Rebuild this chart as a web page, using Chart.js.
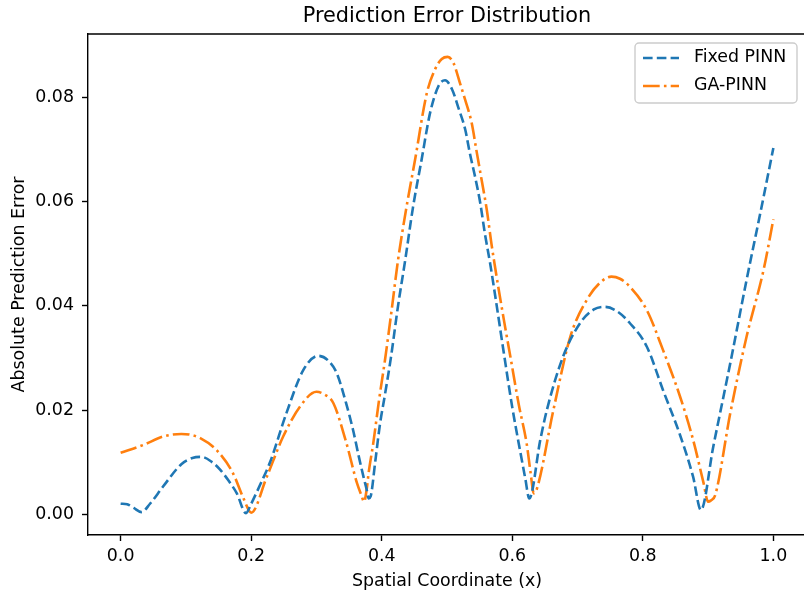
<!DOCTYPE html>
<html>
<head>
<meta charset="utf-8">
<title>Prediction Error Distribution</title>
<script src="https://cdn.jsdelivr.net/npm/chart.js@4"></script>
<style>
  html, body { margin: 0; padding: 0; background: #fff; overflow: hidden; }
  #wrap { width: 804px; height: 596px; overflow: hidden; position: relative; }
  #errChart { position: absolute; left: 0; top: 0; }
</style>
</head>
<body>
<div id="wrap"><canvas id="errChart" width="810" height="596"></canvas></div>
<script>
// Fixed PINN error
const fixedX = [0.000, 0.010, 0.020, 0.032, 0.045, 0.065, 0.093, 0.110, 0.124, 0.140, 0.152, 0.165, 0.178, 0.192, 0.200,
  0.215, 0.229, 0.254, 0.280, 0.303, 0.318, 0.331, 0.345, 0.356, 0.365, 0.372, 0.377, 0.380, 0.383,
  0.390, 0.397, 0.405, 0.414, 0.425, 0.436, 0.448, 0.461, 0.474, 0.487, 0.497,
  0.508, 0.517, 0.528, 0.535, 0.543, 0.551, 0.558, 0.566, 0.574, 0.587, 0.600, 0.613, 0.620, 0.626,
  0.643, 0.653, 0.678, 0.704, 0.725, 0.742, 0.760, 0.780, 0.806, 0.831, 0.857, 0.877, 0.889, 0.908, 0.934,
  0.959, 0.980, 1.000];
const fixedY = [0.0020, 0.0019, 0.0012, 0.0004, 0.0020, 0.0053, 0.0096, 0.0108, 0.0110, 0.0100, 0.0086, 0.0065, 0.0040, 0.0002, 0.0020,
  0.0060, 0.0100, 0.0194, 0.0277, 0.0304, 0.0295, 0.0271, 0.0215, 0.0162, 0.0110, 0.0072, 0.0047, 0.0030, 0.0034,
  0.0100, 0.0170, 0.0230, 0.0300, 0.0400, 0.0488, 0.0590, 0.0680, 0.0770, 0.0822, 0.0833,
  0.0815, 0.0782, 0.0738, 0.0693, 0.0648, 0.0597, 0.0539, 0.0482, 0.0418, 0.0310, 0.0205, 0.0115, 0.0068, 0.0030,
  0.0143, 0.0200, 0.0303, 0.0367, 0.0393, 0.0398, 0.0390, 0.0367, 0.0322, 0.0238, 0.0152, 0.0072, 0.0008, 0.0130, 0.0290,
  0.0450, 0.0578, 0.0703];

// GA-PINN error
const gaX = [0.000, 0.035, 0.065, 0.093, 0.105, 0.122, 0.147, 0.172, 0.188, 0.200, 0.224, 0.249, 0.275, 0.300, 0.312,
  0.326, 0.346, 0.362, 0.369, 0.373, 0.377, 0.380, 0.387, 0.396, 0.405, 0.415, 0.425, 0.438, 0.451, 0.469, 0.482, 0.492, 0.501,
  0.510, 0.520, 0.528, 0.538, 0.545, 0.553, 0.561, 0.568, 0.576, 0.587, 0.598, 0.610, 0.622, 0.628, 0.633, 0.638,
  0.663, 0.689, 0.714, 0.735, 0.752, 0.765, 0.780, 0.806,
  0.831, 0.857, 0.877, 0.893, 0.900, 0.904, 0.911, 0.934, 0.959, 0.985, 1.000];
const gaY = [0.0118, 0.0133, 0.0149, 0.0154, 0.0153, 0.0146, 0.0123, 0.0079, 0.0031, 0.0003, 0.0072, 0.0149, 0.0207, 0.0235, 0.0230,
  0.0213, 0.0136, 0.0060, 0.0036, 0.0024, 0.0048, 0.0080, 0.0136, 0.0220, 0.0296, 0.0390, 0.0488, 0.0590, 0.0680, 0.0808, 0.0855, 0.0874, 0.0878,
  0.0866, 0.0827, 0.0795, 0.0750, 0.0699, 0.0642, 0.0584, 0.0520, 0.0456, 0.0374, 0.0296, 0.0210, 0.0136, 0.0080, 0.0040, 0.0050,
  0.0200, 0.0341, 0.0411, 0.0445, 0.0456, 0.0452, 0.0437, 0.0392,
  0.0315, 0.0226, 0.0143, 0.0060, 0.0024, 0.0026, 0.0037, 0.0194, 0.0341, 0.0469, 0.0566];

const xTicks = [0.0, 0.2, 0.4, 0.6, 0.8, 1.0];
const yTicks = [0.00, 0.02, 0.04, 0.06, 0.08];

const toPoints = (xs, ys) => xs.map((x, i) => ({ x: x, y: ys[i] }));

Chart.defaults.font.family = '"DejaVu Sans", sans-serif';
Chart.defaults.color = '#000';

// axes box (top + right spines) and a matplotlib-like legend in the upper right
const frameAndLegend = {
  id: 'frameAndLegend',
  afterDraw(chart) {
    const { ctx, chartArea: a } = chart;
    ctx.save();
    ctx.strokeStyle = '#000';
    ctx.lineWidth = 1.4;
    ctx.beginPath();
    ctx.moveTo(a.left, a.top);
    ctx.lineTo(a.right, a.top);
    ctx.lineTo(a.right, a.bottom);
    ctx.stroke();

    const bw = 162, bh = 60;
    const bx = a.right - 9 - bw, by = a.top + 9;
    ctx.beginPath();
    ctx.roundRect(bx, by, bw, bh, 4);
    ctx.fillStyle = 'rgba(255,255,255,0.8)';
    ctx.fill();
    ctx.strokeStyle = '#cccccc';
    ctx.lineWidth = 1.4;
    ctx.stroke();

    chart.data.datasets.forEach((ds, i) => {
      const y = by + 15 + i * 28;
      ctx.beginPath();
      ctx.setLineDash(ds.borderDash);
      ctx.strokeStyle = ds.borderColor;
      ctx.lineWidth = ds.borderWidth;
      ctx.moveTo(bx + 8, y);
      ctx.lineTo(bx + 44, y);
      ctx.stroke();
      ctx.setLineDash([]);
      ctx.fillStyle = '#000';
      ctx.font = '17.4px "DejaVu Sans"';
      ctx.textBaseline = 'middle';
      ctx.fillText(ds.label, bx + 59, y);
    });
    ctx.restore();
  }
};

const tickFont = { size: 17.4 };

new Chart(document.getElementById('errChart'), {
  type: 'line',
  data: {
    datasets: [
      {
        label: 'Fixed PINN',
        data: toPoints(fixedX, fixedY),
        borderColor: '#1f77b4',
        borderWidth: 2.6,
        borderDash: [9.6, 4.2],
        borderJoinStyle: 'round',
        pointRadius: 0,
        fill: false,
        cubicInterpolationMode: 'monotone'
      },
      {
        label: 'GA-PINN',
        data: toPoints(gaX, gaY),
        borderColor: '#ff7f0e',
        borderWidth: 2.6,
        borderDash: [16.7, 4.2, 2.6, 4.2],
        borderJoinStyle: 'round',
        pointRadius: 0,
        fill: false,
        cubicInterpolationMode: 'monotone'
      }
    ]
  },
  options: {
    responsive: false,
    animation: false,
    layout: { padding: { left: 0, right: 4, top: 0, bottom: 0 } },
    plugins: {
      legend: { display: false },
      tooltip: { enabled: false },
      title: {
        display: true,
        text: 'Prediction Error Distribution',
        fullSize: false,
        color: '#000',
        font: { size: 20.8, weight: 'normal' },
        padding: { top: 4, bottom: 5 }
      }
    },
    scales: {
      x: {
        type: 'linear',
        min: -0.05,
        max: 1.05,
        afterBuildTicks: s => { s.ticks = xTicks.map(v => ({ value: v })); },
        afterFit: s => { s.height = 61; },
        ticks: { callback: v => v.toFixed(1), font: tickFont, color: '#000', padding: 5, maxRotation: 0, autoSkip: false },
        grid: { display: true, drawOnChartArea: false, tickLength: 6, tickWidth: 1.4, tickColor: '#000' },
        border: { display: true, color: '#000', width: 1.4 },
        title: { display: true, text: 'Spatial Coordinate (x)', font: tickFont, color: '#000', padding: { top: 0, bottom: 4 } }
      },
      y: {
        type: 'linear',
        min: -0.004,
        max: 0.0922,
        afterBuildTicks: s => { s.ticks = yTicks.map(v => ({ value: v })); },
        afterFit: s => { s.width = 88; },
        ticks: { callback: v => v.toFixed(2), font: tickFont, color: '#000', padding: 8, autoSkip: false },
        grid: { display: true, drawOnChartArea: false, tickLength: 6, tickWidth: 1.4, tickColor: '#000' },
        border: { display: true, color: '#000', width: 1.4 },
        title: { display: true, text: 'Absolute Prediction Error', font: tickFont, color: '#000', padding: { top: 9, bottom: 0 } }
      }
    }
  },
  plugins: [frameAndLegend]
});
</script>
</body>
</html>
